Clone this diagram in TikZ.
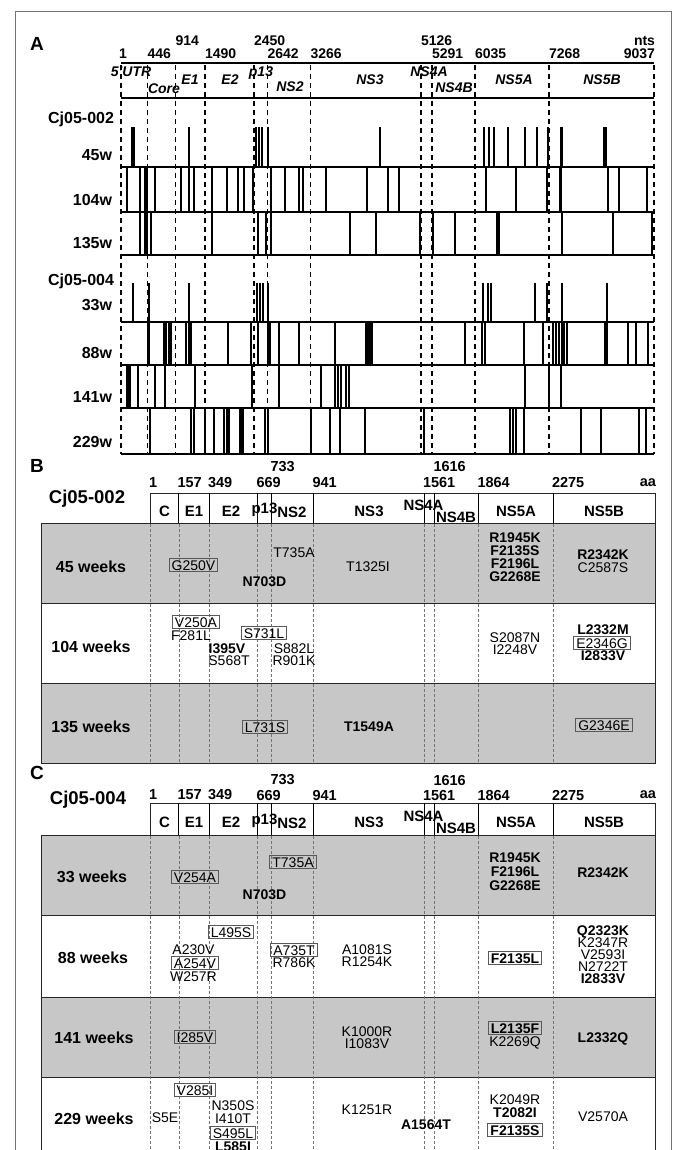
\documentclass[tikz,border=0pt]{standalone}
\usepackage{fontspec}
\setmainfont{Liberation Sans}
\newcommand\barrow[4]{%
 \foreach \x in {#3} {\fill (\x-1,#1) rectangle (\x+1,#2);}%
 \foreach \x/\w in {#4} {\fill (\x-\w/2,#1) rectangle (\x+\w/2,#2);}}
\begin{document}
\begin{tikzpicture}[x=1pt,y=-1pt,
  every node/.style={inner sep=0pt,outer sep=0pt},
  panel/.style={font=\fontsize{19}{19}\selectfont\bfseries},
  numA/.style={font=\fontsize{14}{14}\selectfont\bfseries},
  regA/.style={font=\fontsize{14}{14}\selectfont\bfseries\itshape},
  rowA/.style={font=\fontsize{16}{16}\selectfont\bfseries, anchor=east},
  adash/.style={line width=1.4pt,dash pattern=on 5pt off 4pt},
  baseln/.style={line width=2.5pt},
  numB/.style={font=\fontsize{14.5}{14.5}\selectfont\bfseries, anchor=west},
  hdr/.style={font=\fontsize{15}{15}\selectfont\bfseries},
  cj/.style={font=\fontsize{18.5}{18.5}\selectfont\bfseries},
  wk/.style={font=\fontsize{16}{16}\selectfont\bfseries},
  graybox/.style={fill=black!22, draw=black!85, line width=1pt},
  whitebox/.style={fill=white, draw=black!85, line width=1pt},
  bdash/.style={line width=0.5pt, draw=black!55, dash pattern=on 3pt off 2pt},
  mu/.style={font=\fontsize{14}{14}\selectfont, text height=8.5pt, text depth=0pt, inner xsep=2.5pt, inner ysep=1pt},
  mub/.style={mu, font=\fontsize{14}{14}\selectfont\bfseries},
  mux/.style={mu, text height=10pt, inner ysep=1.5pt, draw=black!65, line width=1pt},
  muxb/.style={mub, text height=10pt, inner ysep=1.5pt, draw=black!65, line width=1pt},
]
\useasboundingbox (0,0) rectangle (676,1150);
\clip (0,0) rectangle (676,1150);
\fill[white] (0,0) rectangle (676,1150);
\draw[black!55, line width=0.8pt] (15,11) rectangle (671,1170);

% ================= Panel A =================
\node[panel] (pA) at (37,44) {A};
\node[numA, anchor=west] (a1) at (119,54) {1};
\node[numA, anchor=west] (a446) at (147.5,54) {446};
\node[numA, anchor=west] (a1490) at (205,54) {1490};
\node[numA, anchor=west] (a2642) at (267.5,54) {2642};
\node[numA, anchor=west] (a3266) at (310.5,54) {3266};
\node[numA, anchor=west] (a5291) at (432,54) {5291};
\node[numA, anchor=west] (a6035) at (475,54) {6035};
\node[numA, anchor=west] (a7268) at (549,54) {7268};
\node[numA, anchor=east] (a9037) at (655,54) {9037};
\node[numA, anchor=west] (a914) at (175.5,41) {914};
\node[numA, anchor=west] (a2450) at (254,41) {2450};
\node[numA, anchor=west] (a5126) at (421,41) {5126};
\node[numA, anchor=east] (ants) at (655,41) {nts};

\draw[baseln] (121,63) -- (654,63);
\draw[baseln] (121,98) -- (654,98);
\foreach \x in {121,147.5,175.5,204.8,254,267.5,310.5,421,432,475,549,654}
  \draw[adash] (\x,65) -- (\x,454);

\node[regA] (r1) at (131,72) {5'UTR};
\node[regA] (r2) at (164,89) {Core};
\node[regA] (r3) at (190,80) {E1};
\node[regA] (r4) at (230,80) {E2};
\node[regA] (r5) at (261,73) {p13};
\node[regA] (r6) at (290,87) {NS2};
\node[regA] (r7) at (370,80) {NS3};
\node[regA] (r8) at (429,72) {NS4A};
\node[regA] (r9) at (454,88) {NS4B};
\node[regA] (r10) at (514,80) {NS5A};
\node[regA] (r11) at (602,80) {NS5B};

\node[rowA] (l1) at (114,119) {Cj05-002};
\node[rowA] (l2) at (112,155) {45w};
\node[rowA] (l3) at (112,200) {104w};
\node[rowA] (l4) at (112,243) {135w};
\node[rowA] (l5) at (114,281) {Cj05-004};
\node[rowA] (l6) at (112,305) {33w};
\node[rowA] (l7) at (112,353) {88w};
\node[rowA] (l8) at (112,397) {141w};
\node[rowA] (l9) at (112,442) {229w};

% bars
\barrow{127}{167}{189,256,259,262,268,380,484,489,494,508,525,537,548}{133/4,561/3,605/3.5}
\barrow{168}{212}{126.6,140,144.5,147,155,181,189,194,212,227,238,243.5,253,271,285,299,303,326,367,388,399,486,516,547,608,619,647}{560.5/3.5}
\barrow{213}{255}{140,144.5,147,151,212,258,265.5,271,350,376,433,455,562,613}{420/2.5,498/4,652/2.5}
\barrow{283}{322}{148.7,189,257,260,263,267.5,483,488,491,535,547,562,607}{133/2}
\barrow{323}{365}{164,166,168.5,171,186,189,191,227.5,251,258,279,299,335,465,482,484.5,524,543,553,556,559,561.5,564,567,628,635.6,648}{148.7/2.5,269/3.5,369/8,606/3.5}
\barrow{366}{408}{138,155,164.7,195,252,279,321,335,338,341,346,349,525,549,560.6}{128/5}
\barrow{409}{454}{191,194,205,214,224,227,229,265,267.5,310.5,329.5,340,365,423.5,510,513,516,524,581,601,639,645.5}{150/2.5,241/5}

\foreach \y in {167,212,255,322,365,408,454}
  \draw[baseln] (121,\y) -- (654,\y);

% ================= Panel B =================
\node[panel] (pB) at (37,466) {B};
\node[cj] (cjB) at (87,499) {Cj05-002};
\node[numB] (b1n) at (149,483) {1};
\node[numB] (b157) at (177.5,483) {157};
\node[numB] (b349) at (208,483) {349};
\node[numB] (b669) at (256.5,483) {669};
\node[numB] (b941) at (312.5,483) {941};
\node[numB] (b1561) at (423,483) {1561};
\node[numB] (b1864) at (477.5,483) {1864};
\node[numB] (b2275) at (552,483) {2275};
\node[numB, anchor=east] (baa) at (656,483) {aa};
\node[numB] (b733) at (270.5,467) {733};
\node[numB] (b1616) at (433.5,467) {1616};

\draw[whitebox] (150.4,493) rectangle (655,523);
\foreach \x in {178.8,209,257.4,271.6,313.4,424.6,434.7,478.5,553}
  \draw[line width=0.9pt] (\x,493) -- (\x,523);
\node[hdr] (bh1) at (164.6,511) {C};
\node[hdr] (bh2) at (194,511) {E1};
\node[hdr] (bh3) at (231,511) {E2};
\node[hdr] (bh4) at (264.5,510) {p13};
\node[hdr] (bh5) at (292,512) {NS2};
\node[hdr] (bh6) at (369,511) {NS3};
\node[hdr] (bh7) at (423.5,505) {NS4A};
\node[hdr] (bh8) at (456,517) {NS4B};
\node[hdr] (bh9) at (516,511) {NS5A};
\node[hdr] (bh10) at (604,511) {NS5B};

\draw[graybox] (41,523) rectangle (655,603);
\draw[whitebox] (41,603) rectangle (655,683);
\draw[graybox] (41,683) rectangle (655,763);
\foreach \x in {150.4,178.8,209,257.4,271.6,313.4,424.6,434.7,478.5,553}
  \draw[bdash] (\x,524) -- (\x,762);

\node[wk] (w45) at (91,567) {45 weeks};
\node[mux] (b01) at (193.5,565) {G250V};
\node[mu] (b02) at (294,553) {T735A};
\node[mub] (b03) at (264.5,582) {N703D};
\node[mu] (b04) at (368,567) {T1325I};
\node[mub] (b05) at (515,538) {R1945K};
\node[mub] (b06) at (515,551) {F2135S};
\node[mub] (b07) at (515,564) {F2196L};
\node[mub] (b08) at (515,577) {G2268E};
\node[mub] (b09) at (603,555) {R2342K};
\node[mu] (b10) at (603,568) {C2587S};

\node[wk] (w104) at (91,647) {104 weeks};
\node[mux] (b11) at (196,622) {V250A};
\node[mu] (b12) at (191,636) {F281L};
\node[mux] (b13) at (264,633) {S731L};
\node[mub] (b14) at (227,649) {I395V};
\node[mu] (b15) at (229,661) {S568T};
\node[mu] (b16) at (294,649) {S882L};
\node[mu] (b17) at (294,661) {R901K};
\node[mu] (b18) at (515,638) {S2087N};
\node[mu] (b19) at (515,650) {I2248V};
\node[mub] (b20) at (603,630) {L2332M};
\node[mux] (b21) at (602,643) {E2346G};
\node[mub] (b22) at (603,656) {I2833V};

\node[wk] (w135) at (91,727) {135 weeks};
\node[mux] (b23) at (265,727) {L731S};
\node[mub] (b24) at (369,727) {T1549A};
\node[mux] (b25) at (604,725) {G2346E};

% ================= Panel C =================
\node[panel] (pC) at (37,773) {C};
\node[cj] (cjC) at (88,800) {Cj05-004};
\node[numB] (c1n) at (149,795) {1};
\node[numB] (c157) at (177.5,795) {157};
\node[numB] (c349) at (208,795) {349};
\node[numB] (c669) at (256.5,795) {669};
\node[numB] (c941) at (312.5,795) {941};
\node[numB] (c1561) at (423,795) {1561};
\node[numB] (c1864) at (477.5,795) {1864};
\node[numB] (c2275) at (552,795) {2275};
\node[numB, anchor=east] (caa) at (656,795) {aa};
\node[numB] (c733) at (270.5,780) {733};
\node[numB] (c1616) at (433.5,780) {1616};

\draw[whitebox] (150.4,803) rectangle (655,835);
\foreach \x in {178.8,209,257.4,271.6,313.4,424.6,434.7,478.5,553}
  \draw[line width=0.9pt] (\x,803) -- (\x,835);
\node[hdr] (ch1) at (164.6,822) {C};
\node[hdr] (ch2) at (194,822) {E1};
\node[hdr] (ch3) at (231,822) {E2};
\node[hdr] (ch4) at (264.5,821) {p13};
\node[hdr] (ch5) at (292,823) {NS2};
\node[hdr] (ch6) at (369,822) {NS3};
\node[hdr] (ch7) at (423.5,816) {NS4A};
\node[hdr] (ch8) at (456,828) {NS4B};
\node[hdr] (ch9) at (516,822) {NS5A};
\node[hdr] (ch10) at (604,822) {NS5B};

\draw[graybox] (41,835) rectangle (655,915);
\draw[whitebox] (41,915) rectangle (655,997);
\draw[graybox] (41,997) rectangle (655,1077);
\draw[whitebox] (41,1077) rectangle (655,1170);
\foreach \x in {150.4,178.8,209,257.4,271.6,313.4,424.6,434.7,478.5,553}
  \draw[bdash] (\x,836) -- (\x,1160);

\node[wk] (w33) at (92,877) {33 weeks};
\node[mux] (c01) at (195,877) {V254A};
\node[mux] (c02) at (293,862) {T735A};
\node[mub] (c03) at (264.5,895) {N703D};
\node[mub] (c04) at (515,858) {R1945K};
\node[mub] (c05) at (515,872) {F2196L};
\node[mub] (c06) at (515,886) {G2268E};
\node[mub] (c07) at (603,873) {R2342K};

\node[wk] (w88) at (93,958) {88 weeks};
\node[mux] (c08) at (231,932) {L495S};
\node[mu] (c09) at (193.5,950) {A230V};
\node[mux] (c10) at (195,963) {A254V};
\node[mu] (c11) at (193.5,977) {W257R};
\node[mux] (c12) at (294,950) {A735T};
\node[mu] (c13) at (294,963) {R786K};
\node[mu] (c14) at (367,950) {A1081S};
\node[mu] (c15) at (367,962) {R1254K};
\node[muxb] (c16) at (515,958) {F2135L};
\node[mub] (c17) at (603,931) {Q2323K};
\node[mu] (c18) at (603,943) {K2347R};
\node[mu] (c19) at (603,955) {V2593I};
\node[mu] (c20) at (603,967) {N2722T};
\node[mub] (c21) at (603,979) {I2833V};

\node[wk] (w141) at (94,1038) {141 weeks};
\node[mux] (c22) at (195,1037) {I285V};
\node[mu] (c23) at (367,1032) {K1000R};
\node[mu] (c24) at (367,1044) {I1083V};
\node[muxb] (c25) at (515,1028) {L2135F};
\node[mu] (c26) at (515,1042) {K2269Q};
\node[mub] (c27) at (603,1038) {L2332Q};

\node[wk] (w229) at (94,1119) {229 weeks};
\node[mux] (c28) at (195,1090) {V285I};
\node[mu] (c29) at (165,1118) {S5E};
\node[mu] (c30) at (233,1106) {N350S};
\node[mu] (c31) at (233,1119) {I410T};
\node[mub] (c33) at (233,1147) {L585I};
\node[mux, fill=white] (c32) at (233,1133) {S495L};
\node[mu] (c34) at (367,1110) {K1251R};
\node[mub] (c35) at (426,1125) {A1564T};
\node[mu] (c36) at (515,1100) {K2049R};
\node[mub] (c37) at (515,1113) {T2082I};
\node[muxb] (c38) at (515,1130) {F2135S};
\node[mu] (c39) at (603,1117) {V2570A};
\end{tikzpicture}
\end{document}
